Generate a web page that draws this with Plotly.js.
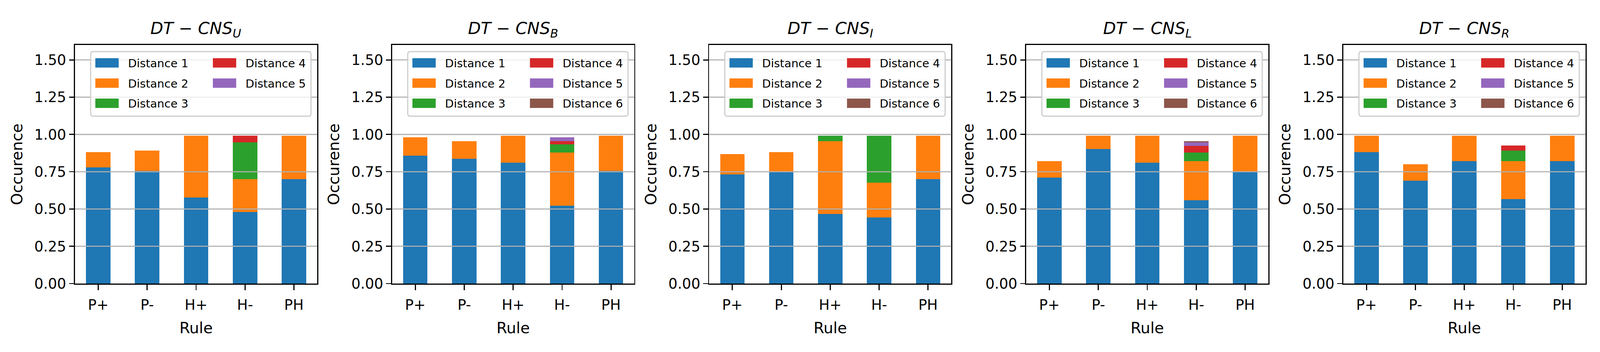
<!DOCTYPE html>
<html>
<head>
<meta charset="utf-8">
<script src="https://cdn.plot.ly/plotly-3.0.1.min.js"></script>
<style>html,body{margin:0;padding:0;background:#fff;overflow:hidden;}</style>
</head>
<body>
<div id="chart"></div>
<script>
// ---- data ----
const rules = ['P+', 'P-', 'H+', 'H-', 'PH'];
const distanceNames = ['Distance 1', 'Distance 2', 'Distance 3', 'Distance 4', 'Distance 5', 'Distance 6'];
const distanceColors = ['#1f77b4', '#ff7f0e', '#2ca02c', '#d62728', '#9467bd', '#8c564b'];
const panelSubscripts = ['U', 'B', 'I', 'L', 'R'];
const yTicks = [0, 0.25, 0.5, 0.75, 1.0, 1.25, 1.5];

// DT-CNS_U (5 distances)
const U_d1 = [0.778, 0.756, 0.578, 0.480, 0.701];
const U_d2 = [0.103, 0.135, 0.413, 0.221, 0.290];
const U_d3 = [0, 0, 0, 0.246, 0];
const U_d4 = [0, 0, 0, 0.044, 0];
const U_d5 = [0, 0, 0, 0, 0];

// DT-CNS_B
const B_d1 = [0.857, 0.836, 0.811, 0.523, 0.756];
const B_d2 = [0.123, 0.120, 0.180, 0.357, 0.235];
const B_d3 = [0, 0, 0, 0.054, 0];
const B_d4 = [0, 0, 0, 0.022, 0];
const B_d5 = [0, 0, 0, 0.024, 0];
const B_d6 = [0, 0, 0, 0, 0];

// DT-CNS_I
const I_d1 = [0.733, 0.748, 0.468, 0.443, 0.701];
const I_d2 = [0.134, 0.133, 0.488, 0.234, 0.290];
const I_d3 = [0, 0, 0.035, 0.314, 0];
const I_d4 = [0, 0, 0, 0, 0];
const I_d5 = [0, 0, 0, 0, 0];
const I_d6 = [0, 0, 0, 0, 0];

// DT-CNS_L
const L_d1 = [0.712, 0.902, 0.811, 0.558, 0.748];
const L_d2 = [0.110, 0.089, 0.180, 0.264, 0.243];
const L_d3 = [0, 0, 0, 0.058, 0];
const L_d4 = [0, 0, 0, 0.044, 0];
const L_d5 = [0, 0, 0, 0.022, 0];
const L_d6 = [0, 0, 0, 0.010, 0];

// DT-CNS_R
const R_d1 = [0.881, 0.691, 0.822, 0.567, 0.822];
const R_d2 = [0.110, 0.110, 0.169, 0.255, 0.169];
const R_d3 = [0, 0, 0, 0.069, 0];
const R_d4 = [0, 0, 0, 0.034, 0];
const R_d5 = [0, 0, 0, 0, 0];
const R_d6 = [0, 0, 0, 0, 0];

const panels = [
  [U_d1, U_d2, U_d3, U_d4, U_d5],
  [B_d1, B_d2, B_d3, B_d4, B_d5, B_d6],
  [I_d1, I_d2, I_d3, I_d4, I_d5, I_d6],
  [L_d1, L_d2, L_d3, L_d4, L_d5, L_d6],
  [R_d1, R_d2, R_d3, R_d4, R_d5, R_d6]
];

// ---- geometry, designed in 4800x900 reference pixels, fitted to the viewport ----
const REF_W = 4800, REF_H = 900;
const W = window.innerWidth || REF_W;
const H = window.innerHeight || REF_H;
const kx = W / REF_W, ky = H / REF_H;
const X = v => v * kx;            // horizontal distances
const Y = v => v * ky;            // vertical distances
const F = v => v * Math.min(kx, ky); // font sizes / line widths
const FONT = 'DejaVu Sans';
const axLeft0 = 225, axStep = 951.2, axW = 726.5;
const axTop = 115, axBottom = 725;
const xPos = rules.map((_, i) => i);

const chartDiv = document.getElementById('chart');
chartDiv.style.width = W + 'px';
chartDiv.style.height = H + 'px';

const traces = [];
const layout = {
  width: W, height: H,
  margin: {l: 0, r: 0, t: 0, b: 0, pad: 0},
  paper_bgcolor: '#fff', plot_bgcolor: '#fff',
  barmode: 'stack',
  showlegend: true,
  font: {family: FONT, color: '#000'},
  annotations: [],
  shapes: []
};

const legendFont = F(34);
const legendItemH = legendFont * 1.3 + 3;
const legendTop = Y(160.7) - 5 - legendItemH / 2;

panels.forEach((series, p) => {
  const n = p + 1;
  const xa = n === 1 ? 'x' : 'x' + n;
  const ya = n === 1 ? 'y' : 'y' + n;
  const leg1 = n === 1 ? 'legend' : 'legend' + (2 * p + 1);
  const leg2 = 'legend' + (2 * p + 2);
  const left = axLeft0 + axStep * p;

  series.forEach((vals, kk) => {
    traces.push({
      type: 'bar',
      x: xPos, y: vals,
      xaxis: xa, yaxis: ya,
      width: 0.5,
      name: distanceNames[kk],
      marker: {color: distanceColors[kk], line: {width: 0}},
      legend: kk < 3 ? leg1 : leg2,
      legendgroup: 'p' + p + 'd' + kk,
      hoverinfo: 'skip'
    });
  });

  const axisCommon = {
    ticks: 'outside', tickwidth: F(3.3), tickcolor: '#000',
    showline: true, linewidth: F(3.3), linecolor: '#000', mirror: true,
    zeroline: false, showgrid: false,
    tickfont: {family: FONT, size: F(43), color: '#000'}
  };
  layout['xaxis' + (n === 1 ? '' : n)] = Object.assign({}, axisCommon, {
    domain: [left / REF_W, (left + axW) / REF_W],
    anchor: ya,
    range: [-0.475, 4.475],
    ticklen: Y(14.6),
    tickmode: 'array', tickvals: xPos, ticktext: rules,
    ticklabelstandoff: Y(6),
    title: {text: 'Rule', font: {family: FONT, size: F(46), color: '#000'}, standoff: Y(24)}
  });
  layout['yaxis' + (n === 1 ? '' : n)] = Object.assign({}, axisCommon, {
    domain: [1 - axBottom / REF_H, 1 - axTop / REF_H],
    anchor: xa,
    range: [0, 1.6],
    ticklen: X(14.6),
    tickmode: 'array', tickvals: yTicks, tickformat: '.2f',
    ticklabelstandoff: X(12),
    title: {text: 'Occurence', font: {family: FONT, size: F(46), color: '#000'}, standoff: X(22)}
  });

  // gridlines drawn over bars (matplotlib default)
  yTicks.filter(v => v > 0).forEach(v => {
    layout.shapes.push({
      type: 'line', layer: 'above',
      xref: xa + ' domain', yref: ya,
      x0: 0, x1: 1, y0: v, y1: v,
      line: {color: '#b0b0b0', width: F(3.3)}
    });
  });

  // legend frame
  const fx0 = 47 / axW, fx1 = 708 / axW;
  const fy1 = 1 - 17 / 610, fy0 = 1 - 182 / 610;
  const rx = 7 / axW, ry = 7 / 610;
  layout.shapes.push({
    type: 'path', layer: 'above',
    xref: xa + ' domain', yref: ya + ' domain',
    path: `M${fx0 + rx},${fy1} L${fx1 - rx},${fy1} Q${fx1},${fy1} ${fx1},${fy1 - ry} ` +
          `L${fx1},${fy0 + ry} Q${fx1},${fy0} ${fx1 - rx},${fy0} L${fx0 + rx},${fy0} ` +
          `Q${fx0},${fy0} ${fx0},${fy0 + ry} L${fx0},${fy1 - ry} Q${fx0},${fy1} ${fx0 + rx},${fy1} Z`,
    fillcolor: 'rgba(255,255,255,0.8)',
    line: {color: '#cccccc', width: F(3.3)}
  });

  const legendCommon = {
    orientation: 'v', xref: 'paper', yref: 'paper',
    xanchor: 'left', yanchor: 'top',
    y: 1 - legendTop / H,
    bgcolor: 'rgba(0,0,0,0)', borderwidth: 0,
    font: {family: FONT, size: legendFont, color: '#000'},
    itemwidth: Math.max(30, X(126) - 10),
    tracegroupgap: Math.max(0, Y(51.7) - legendItemH),
    traceorder: 'grouped',
    itemclick: false, itemdoubleclick: false
  };
  layout[leg1] = Object.assign({}, legendCommon, {x: X(left + 33) / W});
  layout[leg2] = Object.assign({}, legendCommon, {x: X(left + 385.6) / W});

  // subplot title
  layout.annotations.push({
    xref: xa + ' domain', yref: ya + ' domain',
    x: 0.5, y: 1, xanchor: 'center', yanchor: 'bottom', yshift: Y(10),
    showarrow: false,
    text: `<i>DT</i> − <i>CNS<sub>${panelSubscripts[p]}</sub></i>`,
    font: {family: FONT, size: F(50), color: '#000'}
  });
});

Plotly.newPlot('chart', traces, layout, {staticPlot: true, displayModeBar: false}).then(() => {
  const hw = X(35), hh = Y(12);
  document.querySelectorAll('g.legendpoints path').forEach(el =>
    el.setAttribute('d', `M${hw},${hh}H${-hw}V${-hh}H${hw}Z`));
  // drop empty text placeholders plotly leaves behind
  document.querySelectorAll('#chart svg text').forEach(el => {
    if (!el.textContent.trim()) el.remove();
  });
});
</script>
</body>
</html>
